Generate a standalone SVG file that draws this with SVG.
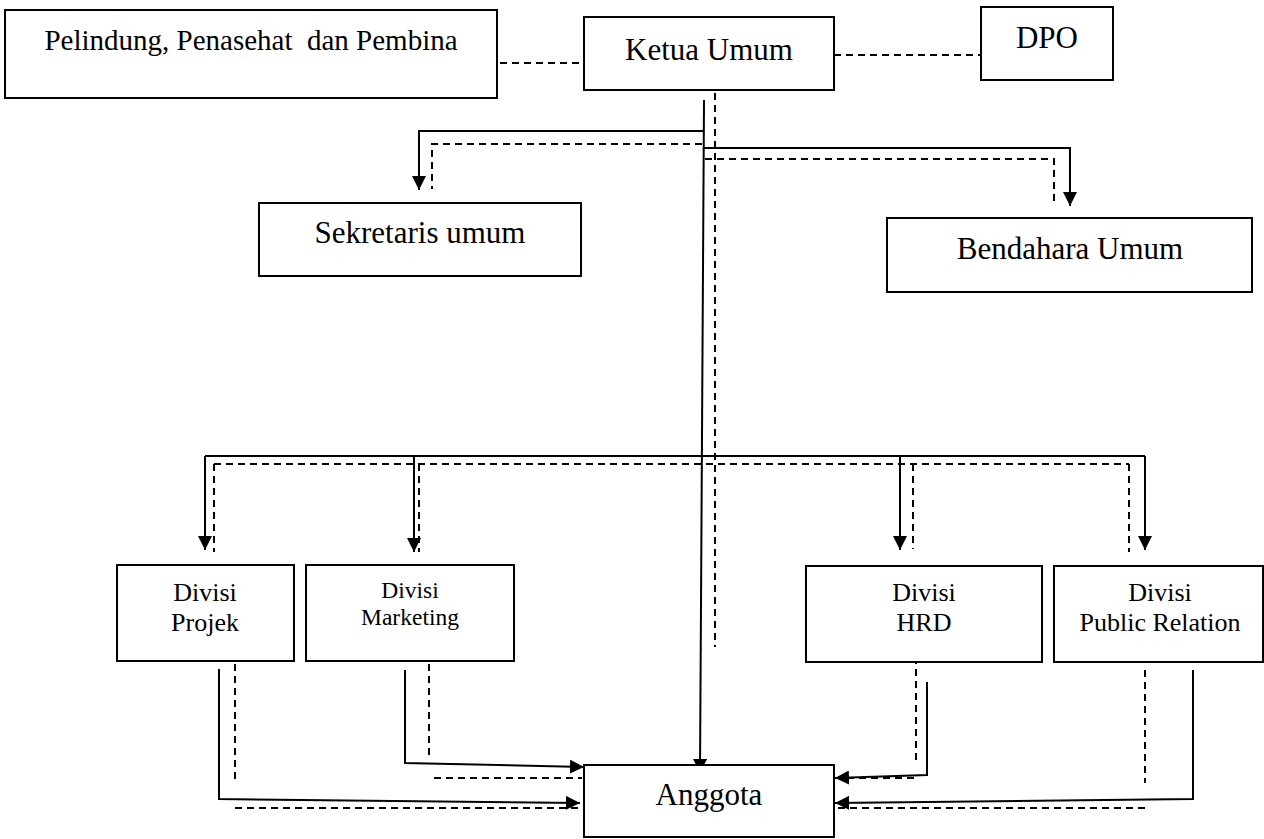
<svg xmlns="http://www.w3.org/2000/svg" width="1264" height="839" viewBox="0 0 1264 839">
<style>
.box{fill:#fff;stroke:#000;stroke-width:2}
.t{font-family:"Liberation Serif","Times New Roman",serif;fill:#000;text-anchor:middle}
.s{fill:none;stroke:#000;stroke-width:2}
.d{fill:none;stroke:#000;stroke-width:2;stroke-dasharray:7 5}
</style>
<defs>
<marker id="ah" viewBox="0 0 14 14" refX="14" refY="7" markerWidth="14" markerHeight="14" markerUnits="userSpaceOnUse" orient="auto">
<path d="M0,0 L14,7 L0,14 z" fill="#000"/>
</marker>
</defs>
<rect width="1264" height="839" fill="#fff"/>
<g id="connectors">
<polyline class="s" points="704,131 419,131 419,190" marker-end="url(#ah)"/>
<polyline class="s" points="704,148 1070,148 1070,206" marker-end="url(#ah)"/>
<line class="s" x1="704" y1="100" x2="700" y2="773" marker-end="url(#ah)"/>
<line class="s" x1="205" y1="456" x2="1145" y2="456"/>
<line class="s" x1="205" y1="456" x2="205" y2="550" marker-end="url(#ah)"/>
<line class="s" x1="414" y1="456" x2="414" y2="552" marker-end="url(#ah)"/>
<line class="s" x1="900" y1="456" x2="900" y2="550" marker-end="url(#ah)"/>
<line class="s" x1="1145" y1="456" x2="1145" y2="550" marker-end="url(#ah)"/>
<polyline class="s" points="219,669 219,799 580,803" marker-end="url(#ah)"/>
<polyline class="s" points="405,670 405,763 584,767" marker-end="url(#ah)"/>
<polyline class="s" points="927,682 927,775 835,778" marker-end="url(#ah)"/>
<polyline class="s" points="1193,670 1193,799 835,803" marker-end="url(#ah)"/>
<line class="d" x1="488" y1="63" x2="583" y2="63"/>
<line class="d" x1="834" y1="55" x2="981" y2="55"/>
<polyline class="d" points="702,144 432,144 432,189"/>
<polyline class="d" points="705,159 1054,159 1054,206"/>
<line class="d" x1="715" y1="81" x2="715" y2="647"/>
<line class="d" x1="214" y1="464" x2="1129" y2="464"/>
<line class="d" x1="214" y1="464" x2="214" y2="552"/>
<line class="d" x1="419" y1="464" x2="419" y2="552"/>
<line class="d" x1="913" y1="464" x2="913" y2="549"/>
<line class="d" x1="1129" y1="464" x2="1129" y2="552"/>
<line class="d" x1="235" y1="664" x2="235" y2="783"/>
<line class="d" x1="235" y1="808" x2="580" y2="808"/>
<line class="d" x1="429" y1="652" x2="429" y2="758"/>
<line class="d" x1="434" y1="778" x2="582" y2="778"/>
<line class="d" x1="916" y1="657" x2="916" y2="760"/>
<line class="d" x1="914" y1="778" x2="840" y2="778"/>
<line class="d" x1="1145" y1="670" x2="1145" y2="783"/>
<line class="d" x1="1145" y1="808" x2="835" y2="808"/>
</g>
<g id="pelindung">
<rect class="box" x="5" y="10" width="492" height="88"/>
<text class="t" x="251" y="50" font-size="29" xml:space="preserve">Pelindung, Penasehat  dan Pembina</text>
</g>
<g id="ketua">
<rect class="box" x="584" y="17" width="250" height="73"/>
<text class="t" x="709" y="60" font-size="31">Ketua Umum</text>
</g>
<g id="dpo">
<rect class="box" x="981" y="7" width="132" height="73"/>
<text class="t" x="1047" y="48" font-size="31">DPO</text>
</g>
<g id="sekretaris">
<rect class="box" x="259" y="203" width="322" height="73"/>
<text class="t" x="420" y="243" font-size="31">Sekretaris umum</text>
</g>
<g id="bendahara">
<rect class="box" x="887" y="218" width="365" height="74"/>
<text class="t" x="1070" y="259" font-size="31">Bendahara Umum</text>
</g>
<g id="projek">
<rect class="box" x="117" y="565" width="177" height="96"/>
<text class="t" x="205" y="601" font-size="26">Divisi</text>
<text class="t" x="205" y="631" font-size="26">Projek</text>
</g>
<g id="marketing">
<rect class="box" x="306" y="565" width="208" height="96"/>
<text class="t" x="410" y="598" font-size="23.5">Divisi</text>
<text class="t" x="410" y="625" font-size="23.5">Marketing</text>
</g>
<g id="hrd">
<rect class="box" x="806" y="566" width="236" height="96"/>
<text class="t" x="924" y="601" font-size="26">Divisi</text>
<text class="t" x="924" y="631" font-size="26">HRD</text>
</g>
<g id="pr">
<rect class="box" x="1054" y="566" width="209" height="96"/>
<text class="t" x="1160" y="601" font-size="26">Divisi</text>
<text class="t" x="1160" y="631" font-size="26">Public Relation</text>
</g>
<g id="anggota">
<rect class="box" x="584" y="765" width="250" height="72"/>
<text class="t" x="709" y="805" font-size="31">Anggota</text>
</g>
</svg>
